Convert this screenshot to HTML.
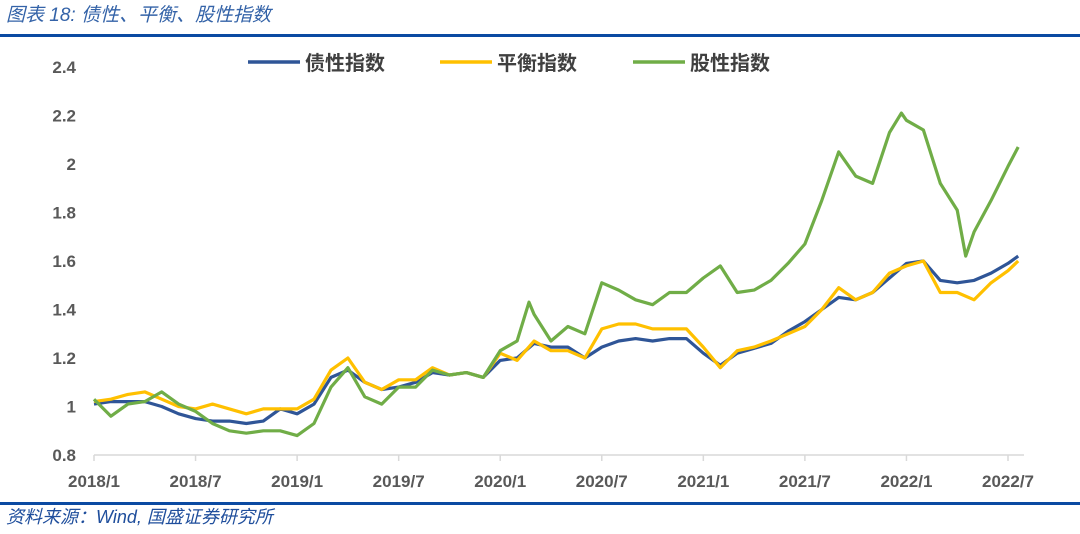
<!DOCTYPE html>
<html><head><meta charset="utf-8"><style>
body{margin:0;width:1080px;height:529px;background:#fff;overflow:hidden;font-family:"Liberation Sans","Noto Sans CJK SC",sans-serif;}
svg text{font-family:"Liberation Sans","Noto Sans CJK SC",sans-serif;}
</style></head><body>
<svg id="c" width="1080" height="529">
<text x="6" y="21" font-size="19" font-style="italic" fill="#3463a8">图表 18:  债性、平衡、股性指数</text>
<rect x="0" y="34" width="1080" height="3" fill="#0b4aa2"/>
<rect x="0" y="502" width="1080" height="3" fill="#0b4aa2"/>
<text x="6" y="523" font-size="18" font-style="italic" fill="#1f4e9c">资料来源：Wind, 国盛证券研究所</text>
<g id="legend">
<line x1="248" y1="62" x2="300" y2="62" stroke="#2f5597" stroke-width="3.5"/>
<text x="305" y="70" font-size="20" fill="#404040" font-weight="bold">债性指数</text>
<line x1="440" y1="62" x2="492" y2="62" stroke="#ffc000" stroke-width="3.5"/>
<text x="497" y="70" font-size="20" fill="#404040" font-weight="bold">平衡指数</text>
<line x1="633" y1="62" x2="685" y2="62" stroke="#70ad47" stroke-width="3.5"/>
<text x="690" y="70" font-size="20" fill="#404040" font-weight="bold">股性指数</text>
</g>
<g id="axes"></g>
<g id="series"></g>
</svg>
<script>
const months=[0,1,2,3,4,5,6,7,8,9,10,11,12,13,14,15,16,17,18,19,20,21,22,23,24,25,26,27,28,29,30,31,32,33,34,35,36,37,38,39,40,41,42,43,44,45,46,47,48,49,50,51,52,53,54,54.6];
const bondVals=[1.01,1.02,1.02,1.02,1.00,0.97,0.95,0.94,0.94,0.93,0.94,0.99,0.97,1.01,1.12,1.15,1.10,1.07,1.08,1.10,1.14,1.13,1.14,1.12,1.19,1.20,1.26,1.245,1.245,1.20,1.245,1.27,1.28,1.27,1.28,1.28,1.22,1.17,1.22,1.24,1.26,1.31,1.35,1.40,1.45,1.44,1.47,1.53,1.59,1.60,1.52,1.51,1.52,1.55,1.59,1.62];
const balVals=[1.02,1.03,1.05,1.06,1.03,1.00,0.99,1.01,0.99,0.97,0.99,0.99,0.99,1.03,1.15,1.20,1.10,1.07,1.11,1.11,1.16,1.13,1.14,1.12,1.22,1.19,1.27,1.23,1.23,1.20,1.32,1.34,1.34,1.32,1.32,1.32,1.245,1.16,1.23,1.245,1.27,1.30,1.33,1.40,1.49,1.44,1.47,1.55,1.58,1.60,1.47,1.47,1.44,1.51,1.56,1.60];
const eqMonths=[0,1,2,3,4,5,6,7,8,9,10,11,12,13,14,15,16,17,18,19,20,21,22,23,24,25,25.7,26,27,28,29,30,31,32,33,34,35,36,37,38,39,40,41,42,43,44,45,46,47,47.7,48,49,50,51,51.5,52,53,54,54.6];
const eqVals=[1.03,0.96,1.01,1.02,1.06,1.01,0.98,0.93,0.90,0.89,0.90,0.90,0.88,0.93,1.08,1.16,1.04,1.01,1.08,1.08,1.15,1.13,1.14,1.12,1.23,1.27,1.43,1.38,1.27,1.33,1.30,1.51,1.48,1.44,1.42,1.47,1.47,1.53,1.58,1.47,1.48,1.52,1.59,1.67,1.85,2.05,1.95,1.92,2.13,2.21,2.18,2.14,1.92,1.81,1.62,1.72,1.85,1.99,2.07];
const yTicks=[0.8,1,1.2,1.4,1.6,1.8,2,2.2,2.4];
const xTickLabels=["2018/1","2018/7","2019/1","2019/7","2020/1","2020/7","2021/1","2021/7","2022/1","2022/7"];
const xTickMonths=[0,6,12,18,24,30,36,42,48,54];
const X=m=>94+m*(914/54);
const Y=v=>455-(v-0.8)*242.5;
const NS="http://www.w3.org/2000/svg";
const axes=document.getElementById('axes'),ser=document.getElementById('series');
function mk(tag,attrs,parent){const e=document.createElementNS(NS,tag);for(const k in attrs)e.setAttribute(k,attrs[k]);parent.appendChild(e);return e;}
const ax=mk('line',{x1:94,y1:455,x2:1024,y2:455,stroke:'#d9d9d9','stroke-width':1.5},axes);


xTickMonths.forEach((m,i)=>{
  const t=mk('line',{x1:X(m),y1:455,x2:X(m),y2:461,stroke:'#d9d9d9','stroke-width':1.5},axes);
  
  
  const l=mk('text',{x:X(m),y:487,'font-size':17,'font-weight':'bold',fill:'#595959','text-anchor':'middle'},axes);
  l.textContent=xTickLabels[i];
  
  
});
yTicks.forEach(v=>{
  const l=mk('text',{x:76,y:Y(v)+6,'font-size':17,'font-weight':'bold',fill:'#595959','text-anchor':'end'},axes);
  l.textContent=String(v);
  
  
});
function line(ms,vals,color,name){
  const d=vals.map((v,i)=>(i?'L':'M')+X(ms[i]).toFixed(1)+','+Y(v).toFixed(1)).join('');
  const p=mk('path',{d:d,fill:'none',stroke:color,'stroke-width':3.2,'stroke-linejoin':'round'},ser);
  
  
}
line(months,bondVals,'#2f5597','bond-index-line');
line(months,balVals,'#ffc000','balanced-index-line');
line(eqMonths,eqVals,'#70ad47','equity-index-line');
</script>
</body></html>
